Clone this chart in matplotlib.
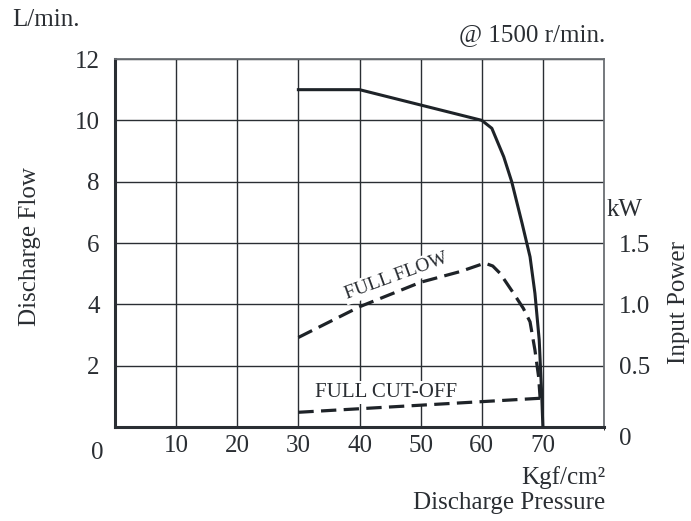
import numpy as np
import matplotlib.pyplot as plt
from matplotlib.ticker import FixedLocator

plt.rcParams['font.family'] = ['Liberation Serif', 'DejaVu Serif']

# discharge flow (L/min) vs pressure (kgf/cm2)
flow_p = [30, 40, 50, 60, 61.65, 63.6, 64.9, 66.6, 67.9, 68.7, 69.4, 69.8, 70]
flow_q = [11.0, 11.0, 10.5, 10.0, 9.74, 8.81, 8.0, 6.64, 5.55, 4.36, 2.84, 1.1, 0.0]

# input power, full flow (drawn on the L/min scale, kW = L/min / 4)
ff_p = [30, 40, 50, 56.5, 60, 60.55, 61.8, 63.0, 65.2, 66.8, 67.9, 68.7, 69.3, 69.55]
ff_q = [2.92, 3.92, 4.72, 5.07, 5.31, 5.34, 5.25, 5.01, 4.36, 3.87, 3.43, 2.51, 1.64, 0.94]

# input power, full cut-off
fc_p = [30, 69.8]
fc_q = [0.48, 0.94]

x_ticks = [10, 20, 30, 40, 50, 60, 70]
y_ticks = [2, 4, 6, 8, 10, 12]
kw_ticks = [0.5, 1.0, 1.5]

fig = plt.figure(figsize=(6.91, 5.21), dpi=100)
ax = fig.add_axes([115 / 691, 1 - 427 / 521, 489 / 691, 368 / 521])
ax.set_axisbelow(True)

ax.plot(flow_p, flow_q, color='#1e2328', lw=2.2, solid_joinstyle='round', zorder=3)
ax.plot(ff_p, ff_q, color='#1e2328', lw=2.3, dashes=(4.8, 2.3), zorder=3)
ax.plot(fc_p, fc_q, color='#1e2328', lw=2.3, dashes=(4.8, 2.3), zorder=3)

ax.set_xlim(0, 80)
ax.set_ylim(0, 12)
ax.set_xticks(x_ticks)
ax.set_yticks(y_ticks)
ax.xaxis.set_minor_locator(FixedLocator([80]))
ax.grid(True, color='#2a2e33', lw=1.0)
ax.tick_params(length=0, labelsize=18, colors='#2a2e33')
ax.tick_params(axis='x', pad=6)
ax.tick_params(axis='y', pad=11)
for s in ['left', 'bottom']:
    ax.spines[s].set_linewidth(2.2)
    ax.spines[s].set_color('#2a2e33')
for s in ['top', 'right']:
    ax.spines[s].set_linewidth(1.3)
    ax.spines[s].set_color('#6a6e73')

ax2 = ax.twinx()
ax2.set_ylim(0, 3)
ax2.set_yticks(kw_ticks)
ax2.set_yticklabels(['0.5', '1.0', '1.5'])
ax2.tick_params(length=0, labelsize=18, pad=11, colors='#2a2e33')
for s in ax2.spines.values():
    s.set_visible(False)

tc = '#2a2e33'
fig.text(12 / 691, 1 - 20 / 521, 'L/min.', fontsize=18, color=tc, va='center', ha='left')
fig.text(97.5 / 691, 1 - 453 / 521, '0', fontsize=18, color=tc, va='center', ha='center')
fig.text(625 / 691, 1 - 439 / 521, '0', fontsize=18, color=tc, va='center', ha='center')
fig.text(605 / 691, 1 - 35 / 521, '@ 1500 r/min.', fontsize=18, color=tc, va='center', ha='right')
fig.text(607 / 691, 1 - 210 / 521, 'kW', fontsize=18, color=tc, va='center', ha='left')
fig.text(30 / 691, 1 - 247 / 521, 'Discharge Flow', fontsize=18, color=tc,
         va='center', ha='center', rotation=90)
fig.text(679 / 691, 1 - 303 / 521, 'Input Power', fontsize=18, color=tc,
         va='center', ha='center', rotation=90)
fig.text(605 / 691, 1 - 478 / 521, 'Kgf/cm²', fontsize=18, color=tc, va='center', ha='right')
fig.text(605 / 691, 1 - 503 / 521, 'Discharge Pressure', fontsize=18, color=tc,
         va='center', ha='right')

box = dict(facecolor='white', edgecolor='none', pad=1.5)
ax.text(46.1, 4.92, 'FULL FLOW', fontsize=14, color=tc, rotation=20,
        ha='center', va='center', bbox=box, zorder=2)
ax.text(44.35, 1.12, 'FULL CUT-OFF', fontsize=15, color=tc, ha='center', va='center',
        bbox=box, zorder=2)

fig.savefig('out.png', dpi=100)
